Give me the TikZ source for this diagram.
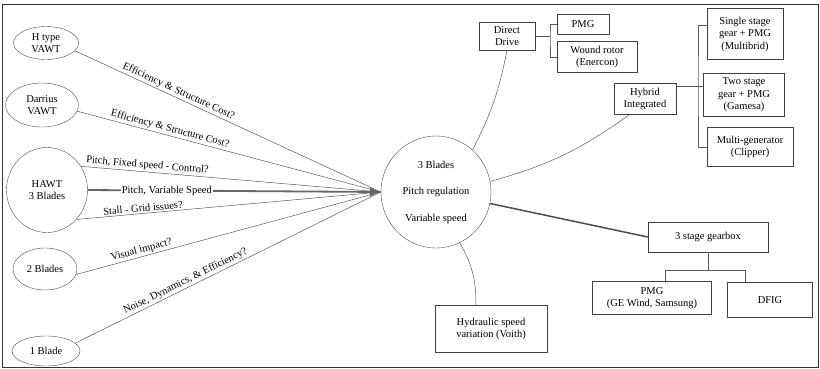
\documentclass[tikz,border=0pt]{standalone}
\usepackage{fontspec}
\setmainfont{Liberation Serif}
\usetikzlibrary{shapes.geometric,arrows.meta}
\tikzset{
  oval/.style={ellipse,draw=black!70,inner sep=0pt,align=center},
  box/.style={draw=black!75,align=center,inner sep=1pt},
  link/.style={black!65,line width=0.5pt},
  tag/.style={sloped,above,inner sep=1.5pt,text=black}
}
\begin{document}
\begin{tikzpicture}[x=1pt,y=-1pt,font=\fontsize{10.5}{12.5}\selectfont]
  \useasboundingbox (0,0) rectangle (820,368);
  \draw[black!80] (2,4) rectangle (818,367);
  \node[oval,minimum width=65pt,minimum height=33pt] (htype) at (46,43) {H type\\VAWT};
  \node[oval,minimum width=73pt,minimum height=44pt] (darr) at (42,105) {Darrius\\VAWT};
  \node[oval,minimum width=81pt,minimum height=85pt] (hawt) at (47,190) {HAWT\\3 Blades};
  \node[oval,minimum width=64pt,minimum height=42pt] (two) at (45,269) {2 Blades};
  \node[oval,minimum width=68pt,minimum height=30pt] (one) at (46,351) {1 Blade};
  \node[oval,minimum width=110pt,minimum height=112pt] (hub) at (436,192)
    {3 Blades\\[14pt]Pitch regulation\\[14pt]Variable speed};
  \node[box,minimum width=56pt,minimum height=28pt] (dd) at (507,36) {Direct\\Drive};
  \node[box,minimum width=52pt,minimum height=20pt] (pmga) at (583,24) {PMG};
  \node[box,minimum width=80pt,minimum height=31pt] (wound) at (597,57) {Wound rotor\\(Enercon)};
  \node[box,minimum width=62pt,minimum height=31pt] (hyb) at (645,99) {Hybrid\\Integrated};
  \node[box,minimum width=76pt,minimum height=51pt] (single) at (745,34) {Single stage\\gear + PMG\\(Multibrid)};
  \node[box,minimum width=81pt,minimum height=43pt] (twostage) at (744,95) {Two stage\\gear + PMG\\(Gamesa)};
  \node[box,minimum width=86pt,minimum height=39pt] (multi) at (750,147) {Multi-generator\\(Clipper)};
  \node[box,minimum width=120pt,minimum height=30pt] (gear) at (708,237) {3 stage gearbox};
  \node[box,minimum width=119pt,minimum height=33pt] (pmgb) at (652,298) {PMG\\(GE Wind, Samsung)};
  \node[box,minimum width=85pt,minimum height=35pt] (dfig) at (770,300) {DFIG};
  \node[box,minimum width=112pt,minimum height=47pt] (hyd) at (491,329) {Hydraulic speed\\variation (Voith)};
  \draw[link] (htype.-15) -- node[tag,pos=0.33]{Efficiency \& Structure Cost?} (hub.west);
  \draw[link] (darr.-10) -- node[tag,pos=0.3]{Efficiency \& Structure Cost?} (hub.west);
  \draw[link] (hawt.35) -- node[tag,pos=0.22]{Pitch, Fixed speed - Control?} (hub.west);
  \draw[link] (hawt.-45) -- node[tag,pos=0.22]{Stall - Grid issues?} (hub.west);
  \draw[link] (two.-10) -- node[tag,pos=0.22]{Visual impact?} (hub.west);
  \draw[link] (one.15) -- node[tag,pos=0.37]{Noise, Dynamics, \& Efficiency?} (hub.west);
  \draw[black!60,line width=1.8pt,-{Latex[length=11pt,width=10pt]}] (hawt.east)
    -- node[pos=0.27,fill=white,inner sep=1pt,text=black]{Pitch, Variable Speed} (hub.west);
  \draw[link] (hub.49) to[bend right=8] (dd.south);
  \draw[link] (hub.11) to[bend right=10] (hyb.-135);
  \draw[black!70,line width=1.5pt] (hub.-12) -- (gear.west);
  \draw[link] (hub.-65) to[bend left=15] ([xshift=-15pt]hyd.north);
  \coordinate (ddj) at (550,36);
  \draw[link] (dd.east) -- (ddj);
  \draw[link] (pmga.west) -| (ddj) |- (wound.west);
  \coordinate (hj) at (698,86);
  \draw[link] (hyb.east |- hj) -- (hj -| twostage.west);
  \draw[link] ([yshift=9pt]single.west) -| (hj) |- (multi.west);
  \coordinate (gj) at ([yshift=-18pt]gear.south);
  \draw[link] (gear.south) -- (gj);
  \draw[link] ([xshift=13pt]pmgb.north) |- (gj) -| ([xshift=-25pt]dfig.north);
\end{tikzpicture}
\end{document}
